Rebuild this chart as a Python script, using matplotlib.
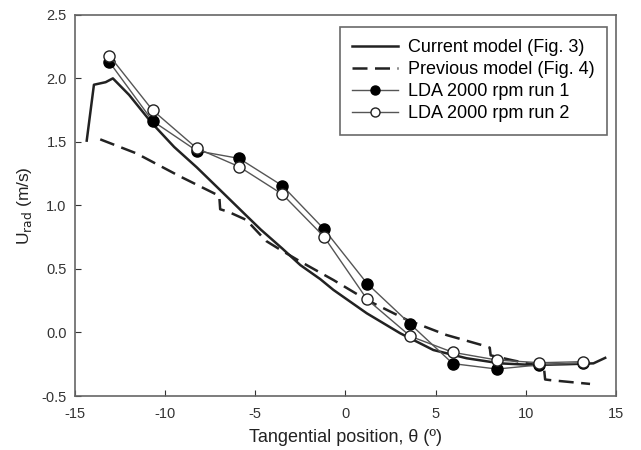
import matplotlib

matplotlib.use("Agg")
import matplotlib.pyplot as plt

plt.rcParams["font.family"] = ["Liberation Sans", "DejaVu Sans"]
plt.rcParams["axes.unicode_minus"] = False

# current model (Fig. 3)
cur_theta = [-14.35, -13.95, -13.3, -12.9, -12.0, -10.75, -9.5, -8.25, -6.8,
             -5.5, -4.7, -3.5, -2.5, -1.4, -0.67, 1.18, 3.03, 4.87, 6.72,
             8.57, 10.42, 12.27, 13.75, 14.4]
cur_u = [1.51, 1.95, 1.97, 2.0, 1.87, 1.65, 1.46, 1.30, 1.10,
         0.92, 0.81, 0.66, 0.53, 0.42, 0.335, 0.151, -0.006, -0.138, -0.203,
         -0.243, -0.256, -0.25, -0.243, -0.20]

# previous model (Fig. 4)
prev_theta = [-13.6, -11.6, -9.2, -7.0, -6.95, -6.5, -5.5, -4.4, -3.6,
              -2.5, -0.67, 1.18, 3.4, 5.6, 7.83, 8.0, 8.05, 9.3, 11.0,
              11.07, 11.35, 13.56]
prev_u = [1.52, 1.41, 1.23, 1.075, 0.97, 0.95, 0.886, 0.72, 0.65,
          0.558, 0.413, 0.256, 0.10, -0.02, -0.11, -0.12, -0.18, -0.22, -0.27,
          -0.37, -0.375, -0.405]

# LDA measurements
lda_theta = [-13.1, -10.7, -8.25, -5.9, -3.5, -1.2, 1.2, 3.6, 5.95, 8.4,
             10.75, 13.15]
run1_u = [2.13, 1.665, 1.43, 1.37, 1.155, 0.815, 0.385, 0.065, -0.245,
          -0.288, -0.255, -0.24]
run2_u = [2.18, 1.75, 1.45, 1.305, 1.088, 0.755, 0.26, -0.03, -0.156,
          -0.217, -0.238, -0.23]

fig = plt.figure(figsize=(6.41, 4.5), dpi=100)
ax = fig.add_axes([0.117, 0.12, 0.844, 0.847])

ax.plot(cur_theta, cur_u, color="#222222", lw=1.8,
        label="Current model (Fig. 3)")
ax.plot(prev_theta, prev_u, color="#222222", lw=1.8, dashes=(6, 3),
        label="Previous model (Fig. 4)")
ax.plot(lda_theta, run1_u, color="#555555", lw=1.0, marker="o", ms=8,
        mfc="black", mec="black", label="LDA 2000 rpm run 1")
ax.plot(lda_theta, run2_u, color="#555555", lw=1.0, marker="o", ms=8,
        mfc="white", mec="#222222", mew=1.0, label="LDA 2000 rpm run 2")

ax.set_xlim(-15, 15)
ax.set_ylim(-0.5, 2.5)
ax.set_xticks([-15, -10, -5, 0, 5, 10, 15])
ax.set_yticks([-0.5, 0.0, 0.5, 1.0, 1.5, 2.0, 2.5])
ax.set_yticklabels(["-0.5", "0.0", "0.5", "1.0", "1.5", "2.0", "2.5"])
ax.tick_params(direction="in", length=4, width=0.8, colors="#333333",
               labelsize=10.5, pad=6)
ax.tick_params(axis="x", pad=8)
for sp in ax.spines.values():
    sp.set_color("#666666")
    sp.set_linewidth(1.2)

ax.set_xlabel("Tangential position, \u03b8 (\u00ba)", fontsize=13,
              color="#222222", labelpad=6)
ax.set_ylabel("U$_{\\rm rad}$ (m/s)", fontsize=12.5, color="#222222",
              labelpad=5)

leg = ax.legend(loc="upper right", bbox_to_anchor=(0.983, 0.969),
                borderaxespad=0, fontsize=13, handlelength=2.5,
                frameon=True, fancybox=False, borderpad=0.7,
                labelspacing=0.28, handletextpad=0.55)
leg.get_frame().set_edgecolor("#444444")
leg.get_frame().set_linewidth(1.2)
for h in leg.legend_handles[2:]:
    h.set_markersize(6.5)

fig.savefig("out.png", dpi=100)
